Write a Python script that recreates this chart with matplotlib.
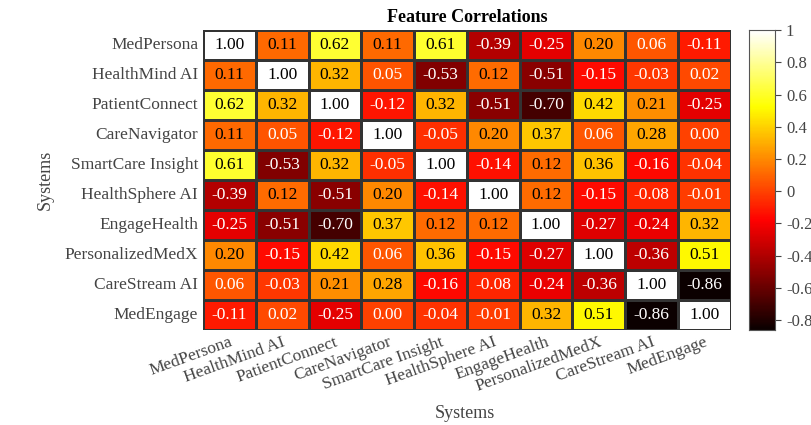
import matplotlib
matplotlib.use("Agg")
import matplotlib.pyplot as plt
import numpy as np
import seaborn as sns
from matplotlib.ticker import FuncFormatter, FixedLocator

systems = ["MedPersona", "HealthMind AI", "PatientConnect", "CareNavigator",
           "SmartCare Insight", "HealthSphere AI", "EngageHealth",
           "PersonalizedMedX", "CareStream AI", "MedEngage"]

corr_rows = [
    [1.00, 0.11, 0.62, 0.11, 0.61, -0.39, -0.25, 0.20, 0.06, -0.11],
    [0.11, 1.00, 0.32, 0.05, -0.53, 0.12, -0.51, -0.15, -0.03, 0.02],
    [0.62, 0.32, 1.00, -0.12, 0.32, -0.51, -0.70, 0.42, 0.21, -0.25],
    [0.11, 0.05, -0.12, 1.00, -0.05, 0.20, 0.37, 0.06, 0.28, 0.00],
    [0.61, -0.53, 0.32, -0.05, 1.00, -0.14, 0.12, 0.36, -0.16, -0.04],
    [-0.39, 0.12, -0.51, 0.20, -0.14, 1.00, 0.12, -0.15, -0.08, -0.01],
    [-0.25, -0.51, -0.70, 0.37, 0.12, 0.12, 1.00, -0.27, -0.24, 0.32],
    [0.20, -0.15, 0.42, 0.06, 0.36, -0.15, -0.27, 1.00, -0.36, 0.51],
    [0.06, -0.03, 0.21, 0.28, -0.16, -0.08, -0.24, -0.36, 1.00, -0.86],
    [-0.11, 0.02, -0.25, 0.00, -0.04, -0.01, 0.32, 0.51, -0.86, 1.00],
]

cbar_ticks = [-0.8, -0.6, -0.4, -0.2, 0, 0.2, 0.4, 0.6, 0.8, 1]

plt.rcParams["font.family"] = ["Liberation Serif", "DejaVu Serif"]

corr = np.array(corr_rows)

fig = plt.figure(figsize=(8.12, 4.25), dpi=100)
ax = fig.add_axes([0.25, 0.224, 0.65, 0.705])
cax = fig.add_axes([0.922, 0.224, 0.033, 0.705])

sns.heatmap(corr, ax=ax, cbar_ax=cax, cmap="hot", annot=False,
            linewidths=1, linecolor="#333333",
            xticklabels=systems, yticklabels=systems)

# value labels: dark text on the bright cells, white on the dark ones
for i in range(corr.shape[0]):
    for j in range(corr.shape[1]):
        v = corr[i, j]
        ax.text(j + 0.5, i + 0.5, "{:.2f}".format(v), ha="center", va="center",
                fontsize=12.5, color="black" if v >= 0.1 else "white")

ax.set_title("Feature Correlations", fontsize=13, fontweight="bold", pad=6)
ax.set_xlabel("")
ax.set_ylabel("Systems", fontsize=13, color="#444444", labelpad=8)
fig.text(0.573, 0.008, "Systems", fontsize=13, color="#444444", ha="center", va="bottom")
ax.tick_params(axis="both", length=0, labelsize=12.5, labelcolor="#444444")
ax.tick_params(axis="x", pad=3)
plt.setp(ax.get_xticklabels(), rotation=20, ha="right", rotation_mode="anchor")
plt.setp(ax.get_yticklabels(), rotation=0)

cax.yaxis.set_major_locator(FixedLocator(cbar_ticks))
cax.yaxis.set_major_formatter(FuncFormatter(lambda v, p: "{:g}".format(round(v, 2))))
cax.tick_params(labelsize=12, labelcolor="#444444", color="#444444", length=4)
for s in cax.spines.values():
    s.set_visible(True)
    s.set_edgecolor("#555555")

fig.savefig("out.png", dpi=100)
